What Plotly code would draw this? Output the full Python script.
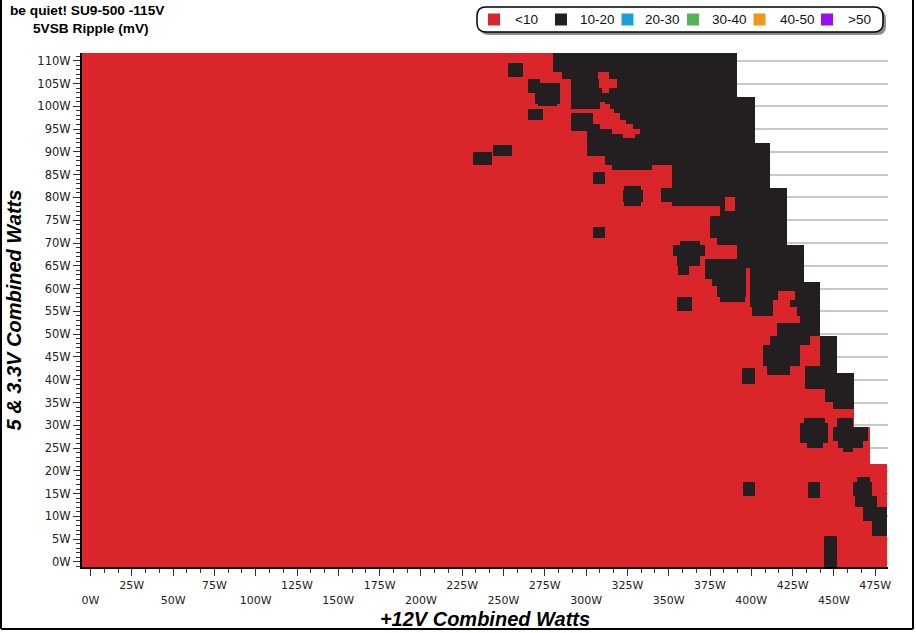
import numpy as np
import plotly.graph_objects as go

# ---------------- data ----------------
TITLE = "be quiet! SU9-500 -115V"
SUBTITLE = "5VSB Ripple (mV)"
X_TITLE = "+12V Combined Watts"
Y_TITLE = "5 & 3.3V Combined Watts"

LEGEND_LABELS = ["<10", "10-20", "20-30", "30-40", "40-50", ">50"]
LEGEND_COLORS = ["#da252b", "#231f20", "#1aa0db", "#52b552", "#f0961e", "#9a10f0"]

X_TICKS = list(range(0, 476, 25))
Y_TICKS = list(range(0, 111, 5))

# upper edge (W, 5&3.3V) of each load band and the max +12V load (W) tested in it
MINOR_BAND_TOP = [21.7, 29.6, 41.5, 49.4, 61.4, 69.6, 82.1, 91.9, 102.0, 112.0]
MAX_12V = [482.1, 471.8, 461.8, 451.8, 441.6, 431.3, 421.6, 411.3, 402.2, 391.4]

# zones with 10-20 mV ripple: (5&3.3V from, to, +12V from, to) in W
ZONES_10_20 = [
    (106.6, 109.7, 252.7, 261.8),
    (104.9, 105.8, 264.8, 272.1), (103.1, 104.9, 264.8, 284.2),
    (100.5, 103.1, 269.1, 284.2), (99.8, 100.5, 271.0, 282.4),
    (97.0, 99.6, 264.8, 273.9),
    (86.9, 90.2, 231.5, 243.0), (88.9, 91.7, 243.6, 255.1),
    (82.9, 85.6, 304.2, 311.4),
    (77.9, 82.5, 323.0, 333.2), (79.0, 81.5, 321.8, 334.4),
    (71.1, 73.7, 304.2, 311.4),
    (54.9, 57.9, 355.1, 364.1),
    (107.3, 112.5, 280.0, 483), (106.2, 107.3, 285.4, 483),
    (94.4, 106.2, 290.3, 483), (88.9, 94.4, 300.5, 483),
    (87.1, 88.9, 311.4, 483), (86.0, 87.1, 315.7, 339.9),
    (82.1, 87.1, 352.1, 483), (79.0, 82.1, 344.8, 483),
    (77.9, 79.0, 352.1, 483), (76.1, 77.9, 381.1, 483),
    (71.1, 76.1, 375.0, 483), (69.6, 71.1, 379.2, 483),
    (64.7, 69.6, 391.4, 483), (59.7, 64.7, 399.2, 483),
    (57.5, 59.7, 399.2, 416.2), (57.5, 59.7, 426.5, 483),
    (56.0, 57.5, 399.2, 413.1), (56.0, 57.5, 423.4, 483),
    (54.2, 56.0, 400.4, 413.1), (54.2, 56.0, 427.7, 483),
    (52.4, 54.2, 429.5, 483), (49.4, 52.4, 415.6, 483),
    (47.6, 49.4, 411.3, 435.5), (47.6, 49.4, 441.6, 483),
    (42.8, 47.6, 407.1, 429.5), (42.8, 47.6, 441.6, 483),
    (41.0, 42.8, 409.5, 423.4), (41.0, 42.8, 432.5, 483),
    (38.2, 41.0, 432.5, 483), (34.9, 38.2, 444.6, 483),
    (33.4, 34.9, 449.4, 483),
    (69.6, 70.7, 356.9, 368.9), (66.9, 69.6, 352.7, 372.0),
    (65.2, 66.9, 355.1, 368.9), (63.0, 65.2, 355.7, 362.5),
    (61.9, 66.7, 372.0, 397.0), (60.3, 61.9, 376.2, 397.0),
    (58.2, 60.3, 379.2, 397.0), (57.1, 58.2, 381.1, 396.2),
    (38.8, 42.6, 394.4, 402.2),
    (30.5, 31.6, 431.3, 444.6), (26.1, 30.5, 429.5, 446.4), (25.0, 26.1, 433.7, 442.8),
    (29.6, 31.6, 451.8, 461.5), (26.3, 29.6, 449.4, 470.6),
    (25.0, 26.3, 452.4, 467.5), (24.1, 25.0, 455.4, 461.5),
    (14.7, 17.6, 394.9, 402.2), (13.8, 17.6, 434.3, 441.6),
    (17.3, 18.7, 463.9, 471.8), (14.7, 17.3, 461.5, 473.1),
    (12.1, 14.7, 462.7, 476.1), (9.2, 12.1, 467.5, 483), (5.5, 9.2, 473.1, 483),
    (-2.0, 5.5, 444.0, 451.8),
]

# pockets of <10 mV inside the 10-20 mV zones
POCKETS_LT10 = [
    (105.8, 107.5, 307.2, 313.3), (104.0, 105.8, 307.8, 318.7), (103.1, 104.0, 309.6, 313.3),
    (100.3, 101.1, 308.4, 311.4), (99.6, 100.3, 308.4, 314.5), (98.3, 99.6, 290.3, 316.9),
    (97.0, 98.3, 304.2, 320.5), (95.9, 97.0, 304.2, 324.2), (94.8, 95.9, 308.4, 328.4),
    (93.9, 94.8, 315.7, 332.6), (93.0, 93.9, 321.8, 329.6),
    (77.2, 79.9, 384.0, 390.0),
]

# ---------------- build the class grid ----------------
xc = np.arange(-5.75, 483.0, 0.5)
yc = np.arange(-1.25, 112.3, 0.5)
X, Y = np.meshgrid(xc, yc)
Z = np.zeros(X.shape)
for y0, y1, x0, x1 in ZONES_10_20:
    Z[(Y >= y0) & (Y < y1) & (X >= x0) & (X < x1)] = 1
for y0, y1, x0, x1 in POCKETS_LT10:
    Z[(Y >= y0) & (Y < y1) & (X >= x0) & (X < x1)] = 0
band = np.minimum(np.searchsorted(MINOR_BAND_TOP, yc), len(MAX_12V) - 1)
row_max = np.array(MAX_12V)[band]
Z[X > row_max[:, None]] = np.nan
z_list = [[None if np.isnan(v) else int(v) for v in row] for row in Z]

RED, BLACK = LEGEND_COLORS[0], LEGEND_COLORS[1]

fig = go.Figure()
fig.add_trace(go.Heatmap(
    x=xc, y=yc, z=z_list, zmin=0, zmax=1, zsmooth=False,
    colorscale=[[0, RED], [0.5, RED], [0.5, BLACK], [1, BLACK]],
    showscale=False, hoverinfo="skip",
))

# ---------------- layout ----------------
W, H = 916, 633
L, T, R, B = 82, 53, 888, 567
PW, PH = R - L, B - T


def px_x(p):
    return (p - L) / PW


def px_y(p):
    return (B - p) / PH


x_tick_font = dict(family="DejaVu Sans", size=11, color="#222222")
y_tick_font = dict(family="DejaVu Sans", size=11.5, color="#222222")
x_text = [(f"{v}W" if (v // 25) % 2 == 1 else f"<br>{v}W") for v in X_TICKS]
title_font = dict(family="Liberation Sans", size=20, color="black", weight="bold", style="italic")

fig.update_layout(
    width=W, height=H, autosize=False,
    margin=dict(l=L, r=W - R, t=T, b=H - B, pad=0, autoexpand=False),
    paper_bgcolor="white", plot_bgcolor="white",
    showlegend=False,
    xaxis=dict(
        range=[-5.15, 482.75], showgrid=False, zeroline=False, automargin=False,
        showline=True, linecolor="black", linewidth=2,
        ticks="outside", ticklen=7, tickwidth=1, tickcolor="#333333",
        tickvals=X_TICKS, ticktext=x_text, tickfont=x_tick_font,
        minor=dict(ticks="outside", ticklen=4, tickwidth=1, tickcolor="#333333",
                   tickvals=[v for v in np.arange(0, 481, 25 / 3) if round(v) % 25 != 0]),
        title=dict(text=X_TITLE, font=title_font, standoff=6),
    ),
    yaxis=dict(
        range=[-1.1, 111.7], showgrid=True, gridcolor="#c8c8c8", gridwidth=1.5,
        zeroline=False, showline=True, linecolor="black", linewidth=2, automargin=False,
        ticks="outside", ticklen=7, tickwidth=1, tickcolor="#333333",
        tickvals=Y_TICKS, ticktext=[f"{v}W" for v in Y_TICKS], tickfont=y_tick_font,
        minor=dict(ticks="outside", ticklen=4, tickwidth=1, tickcolor="#333333",
                   dtick=1, tick0=0, showgrid=False),
        title=dict(text=Y_TITLE, font=title_font, standoff=10),
    ),
)

shapes = []
annotations = []

# outer frame (left, right, bottom edges)
for x0, y0, x1, y1 in [(1, 0, 1, 629), (913, 0, 913, 629), (1, 629, 913, 629)]:
    shapes.append(dict(type="line", xref="paper", yref="paper",
                       x0=px_x(x0), x1=px_x(x1), y0=px_y(y0), y1=px_y(y1),
                       line=dict(color="black", width=2), layer="above"))


def rounded(x0, y0, x1, y1, r):
    rx, ry = r / PW, r / PH
    a, b, c, d = px_x(x0), px_x(x1), px_y(y1), px_y(y0)
    return (f"M {a + rx},{c} L {b - rx},{c} Q {b},{c} {b},{c + ry} "
            f"L {b},{d - ry} Q {b},{d} {b - rx},{d} L {a + rx},{d} "
            f"Q {a},{d} {a},{d - ry} L {a},{c + ry} Q {a},{c} {a + rx},{c} Z")


shapes.append(dict(type="path", xref="paper", yref="paper", path=rounded(480, 10, 886, 35, 9),
                   fillcolor="#8c8c8c", line=dict(width=0), layer="above"))
shapes.append(dict(type="path", xref="paper", yref="paper", path=rounded(477, 7, 883, 32, 9),
                   fillcolor="white", line=dict(color="black", width=1.5), layer="above"))

sq_centers = [494, 561, 627.5, 693, 759.5, 827]
lbl_starts = [513, 578, 643, 710, 778, 846]
for lab, col, cx, lx in zip(LEGEND_LABELS, LEGEND_COLORS, sq_centers, lbl_starts):
    shapes.append(dict(type="rect", xref="paper", yref="paper",
                       x0=px_x(cx - 6), x1=px_x(cx + 6), y0=px_y(25.5), y1=px_y(13.5),
                       fillcolor=col, line=dict(width=0), layer="above"))
    annotations.append(dict(x=px_x(lx), y=px_y(19.5), xref="paper", yref="paper",
                            text=lab, showarrow=False, xanchor="left", yanchor="middle",
                            font=dict(family="Liberation Sans", size=13.5, color="#111111")))

annotations.append(dict(x=px_x(8), y=px_y(10.5), xref="paper", yref="paper", text=TITLE,
                        showarrow=False, xanchor="left", yanchor="middle",
                        font=dict(family="Liberation Sans", size=13.7, color="black", weight="bold")))
annotations.append(dict(x=px_x(31), y=px_y(28.5), xref="paper", yref="paper", text=SUBTITLE,
                        showarrow=False, xanchor="left", yanchor="middle",
                        font=dict(family="Liberation Sans", size=13.7, color="black", weight="bold")))

fig.update_layout(shapes=shapes, annotations=annotations)
fig.write_html("out.html", config={"displayModeBar": False},
               post_script="document.body.style.margin='0';document.body.style.padding='0';")
